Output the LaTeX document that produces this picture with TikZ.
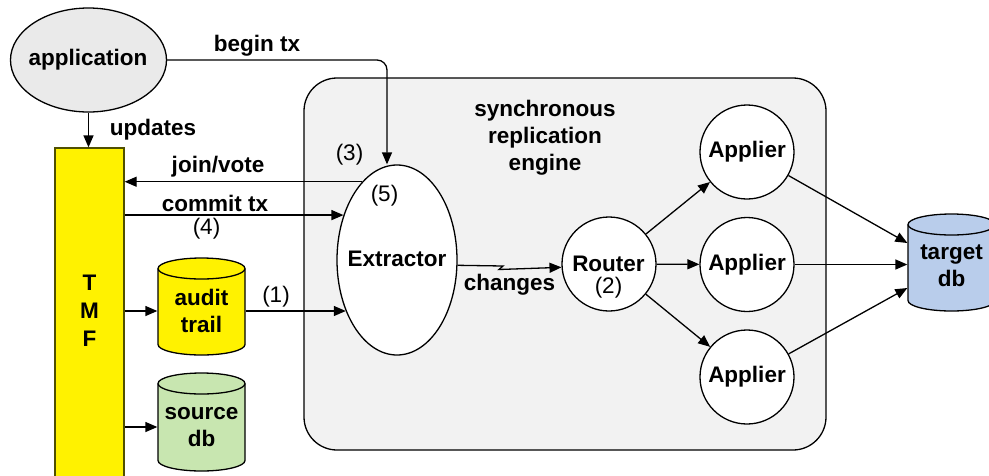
\documentclass[tikz,border=0pt]{standalone}
\usepackage{fontspec}
\setmainfont{Liberation Sans}
\usetikzlibrary{arrows.meta,shapes.geometric,calc}
\definecolor{engfill}{RGB}{242,242,242}
\definecolor{appfill}{RGB}{234,234,234}
\definecolor{tmfdraw}{RGB}{80,80,0}
\definecolor{srcfill}{RGB}{200,230,176}
\definecolor{tgtfill}{RGB}{185,205,235}
\newcommand\fsz{\fontsize{22.5}{27}\selectfont}
\newcommand\dbcyl[4]{%
  \filldraw[fill=#4, draw=black] (#1-43.5,#2+10.5) arc[start angle=180,end angle=0,x radius=43.5pt,y radius=10.5pt] -- (#1+43.5,#3-10.5) arc[start angle=0,end angle=-180,x radius=43.5pt,y radius=10.5pt] -- cycle;
  \draw (#1-43.5,#2+10.5) arc[start angle=180,end angle=360,x radius=43.5pt,y radius=10.5pt];}
\begin{document}
\begin{tikzpicture}[x=1pt,y=-1pt, line width=1.3pt,
  >={Triangle[length=12pt,width=10pt]},
  every node/.style={font=\fsz, inner sep=0pt},
  lbl/.style={font=\fsz\bfseries},
  num/.style={font=\fsz},
  conn/.style={->, draw=black},
  engine/.style={rectangle, rounded corners=33pt, draw=black, fill=engfill, minimum width=522pt, minimum height=372pt},
  appnode/.style={ellipse, draw=black, fill=appfill, minimum width=156pt, minimum height=104pt},
  tmfnode/.style={rectangle, draw=tmfdraw, fill=yellow, minimum width=69pt, minimum height=340pt},
  extnode/.style={ellipse, draw=black, fill=white, minimum width=120pt, minimum height=190pt},
  circnode/.style={circle, draw=black, fill=white, minimum size=94pt, font=\fsz\bfseries},
  dbtext/.style={font=\fsz\bfseries, align=center, minimum width=87pt}]
\useasboundingbox (0,0) rectangle (989,475);
\clip (0,0) rectangle (989,475);
% engine
\node[engine] (eng) at (565,264) {};
\node[lbl, align=center] (englbl) at (545,138) {synchronous\\replication\\engine};
% application
\node[appnode] (app) at (88.5,60) {};
\node[lbl] (applbl) at (88,60) {application};
% TMF
\node[tmfnode] (tmf) at (89.5,318) {};
\node[font=\fontsize{22.5}{28}\selectfont\bfseries, align=center] (tmflbl) at (89.5,311) {T\\M\\F};
% extractor
\node[extnode] (ext) at (397,260) {};
\node[lbl] (extlbl) at (397,259) {Extractor};
% router and appliers
\node[circnode] (rt) at (609,264) {};
\node[lbl] (rtlbl) at (608.5,263.5) {Router};
\node[num] (rtnum) at (608.5,288) {(2)};
\node[circnode] (ap1) at (747,152) {Applier};
\node[circnode] (ap2) at (747,264.5) {Applier};
\node[circnode] (ap3) at (747,377) {Applier};
% databases
\dbcyl{201.5}{258}{355}{yellow}
\node[dbtext] (audit) at (201.5,311) {audit\\trail};
\dbcyl{201.5}{373}{471}{srcfill}
\node[dbtext] (src) at (201.5,427) {source\\db};
\dbcyl{951.5}{214}{311}{tgtfill}
\node[dbtext] (tgt) at (951.5,266) {target\\db};
% connectors
\draw[conn] (app.south) -- (app.south |- tmf.north);
\node[lbl] (updlbl) at (153,130) {updates};
\draw[conn, rounded corners=10pt] (app.east) -| ([xshift=-10pt]ext.north);
\node[lbl] (beginlbl) at (257,46) {begin tx};
\draw[conn] (ext.114) -- (ext.114 -| tmf.east);
\node[lbl] (joinlbl) at (218,167) {join/vote};
\draw[conn] (ext.140 -| tmf.east) -- (ext.140);
\node[lbl] (commitlbl) at (215,203) {commit tx};
\node[num] (n4) at (206.5,229) {(4)};
\node[num] (n3) at (349.5,155) {(3)};
\node[num] (n5) at (384.5,196) {(5)};
\draw[conn] (tmf.east |- audit.west) -- (audit.west);
\draw[conn] (tmf.east |- src.west) -- (src.west);
\draw[conn] (audit.east) -- (audit.east -| ext.225);
\node[num] (n1) at (276,297) {(1)};
\coordinate (zz1) at (503,266);
\coordinate (zz2) at (499,269.5);
\draw[conn] (ext.-5) -- (zz1) -- (zz2) -- (rt.184);
\node[lbl] (chglbl) at (509.5,285) {changes};
\draw[conn] (rt) -- (ap1);
\draw[conn] (rt) -- (ap2);
\draw[conn] (rt) -- (ap3);
\draw[conn] (ap1) -- ([yshift=23pt]tgt.west);
\draw[conn] (ap2) -- (ap2 -| tgt.west);
\draw[conn] (ap3) -- ([yshift=-22pt]tgt.west);
\end{tikzpicture}
\end{document}
